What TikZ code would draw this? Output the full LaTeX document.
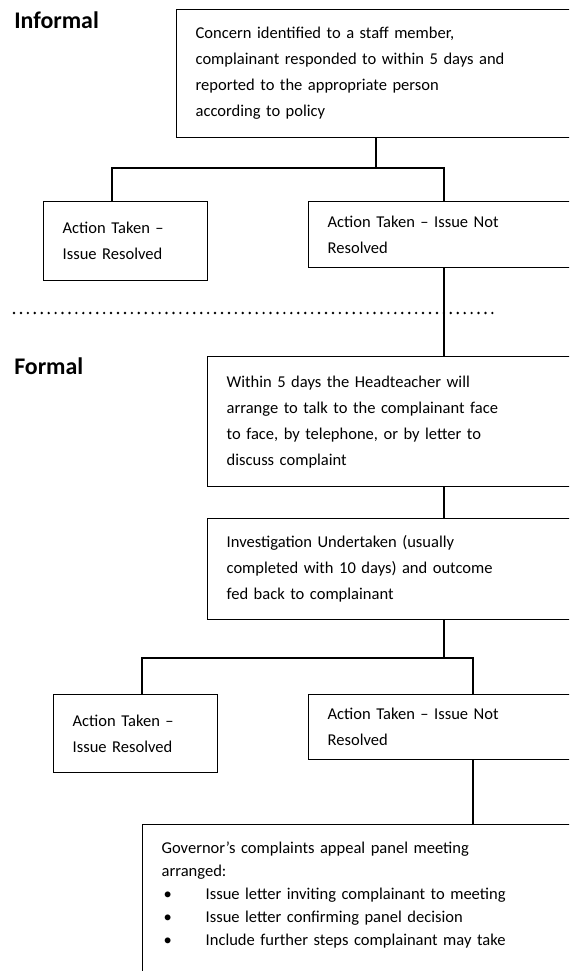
\documentclass[tikz,border=0pt]{standalone}
\usepackage{fontspec}
\setmainfont{Carlito}
\usetikzlibrary{positioning}

\tikzset{
  stagebox/.style={draw, line width=1pt, anchor=north west, align=left,
    inner xsep=14.25pt, inner ysep=4pt, text width=300pt,
    font=\fontsize{12.4}{19.5}\selectfont},
  smallbox/.style={stagebox, text width=94.5pt},
  heading/.style={anchor=west, inner sep=0pt, font=\fontsize{17.9}{20}\selectfont\bfseries},
  link/.style={line width=1pt}
}
\newcommand{\panelitem}[1]{\hspace*{1.5pt}\makebox[31.5pt][l]{\textbullet}#1}

\begin{document}
\begin{tikzpicture}[x=0.75pt,y=-0.75pt]
\useasboundingbox (0,0) rectangle (569,971);
\clip (0,0) rectangle (569,971);

% informal stage
\node[heading] (informal) at (14,20) {Informal};
\node[stagebox, minimum height=96pt] (inf) at (176,9)
  {Concern identified to a staff member,\\complainant responded to within 5 days and\\reported to the appropriate person\\according to policy};
\node[smallbox, minimum height=59.25pt] (infyes) at (43,201) {Action Taken --\\Issue Resolved};
\node[stagebox, minimum height=49.5pt] (infno) at (308,201) {Action Taken -- Issue Not\\Resolved};

\draw[line width=2pt, dash pattern=on 0pt off 5.2pt, line cap=round] (14,313) -- (495,313);

% formal stage
\node[heading] (formal) at (14,366) {Formal};
\node[stagebox, minimum height=97.5pt] (hteach) at (207,356)
  {Within 5 days the Headteacher will\\arrange to talk to the complainant face\\to face, by telephone, or by letter to\\discuss complaint};
\node[stagebox, minimum height=75.75pt] (invest) at (207,518)
  {Investigation Undertaken (usually\\completed with 10 days) and outcome\\fed back to complainant};
\node[smallbox, minimum height=58.5pt] (fyes) at (53,694) {Action Taken --\\Issue Resolved};
\node[stagebox, minimum height=48.75pt] (fno) at (308,694) {Action Taken -- Issue Not\\Resolved};
\node[stagebox, inner ysep=13pt, font=\fontsize{12.4}{17.25}\selectfont] (panel) at (142,824)
  {Governor’s complaints appeal panel meeting\\arranged:\\
   \panelitem{Issue letter inviting complainant to meeting}\\
   \panelitem{Issue letter confirming panel decision}\\
   \panelitem{Include further steps complainant may take}\rule[-60pt]{0pt}{60pt}};

% connectors
\coordinate (s1) at (376,168);
\coordinate (s1l) at (112,168);
\coordinate (s1r) at (444,168);
\draw[link] (s1 |- inf.south) -- (s1);
\draw[link] (s1l |- infyes.north) -- (s1l) -- (s1r) -- (s1r |- infno.north);
\draw[link] (s1r |- infno.south) -- (s1r |- hteach.north);
\draw[link] (s1r |- hteach.south) -- (s1r |- invest.north);

\coordinate (s2) at (444,658);
\coordinate (s2l) at (142,658);
\coordinate (s2r) at (473,658);
\draw[link] (s2 |- invest.south) -- (s2);
\draw[link] (s2l |- fyes.north) -- (s2l) -- (s2r) -- (s2r |- fno.north);
\draw[link] (s2r |- fno.south) -- (s2r |- panel.north);
\end{tikzpicture}
\end{document}
